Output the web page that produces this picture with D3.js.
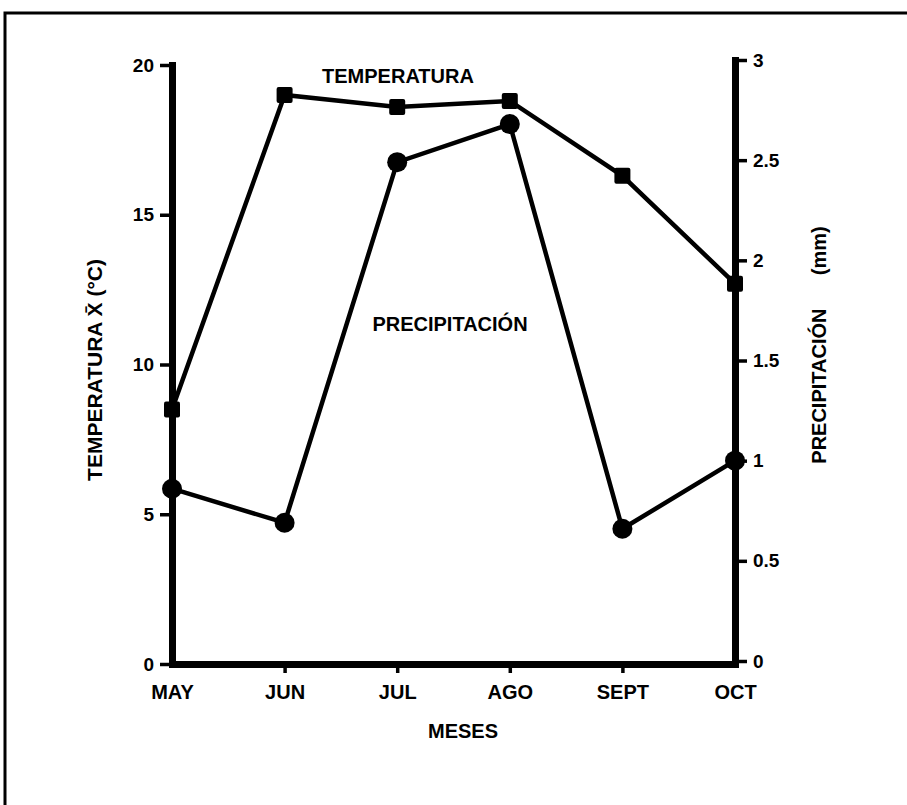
<!DOCTYPE html>
<html>
<head>
<meta charset="utf-8">
<script src="https://cdn.jsdelivr.net/npm/d3@7"></script>
<style>
  body { margin: 0; background: #fff; }
  text { font-family: "Liberation Sans", Arial, sans-serif; font-weight: bold; fill: #000; }
</style>
</head>
<body>
<div id="chart"></div>
<script>
const months = ['MAY', 'JUN', 'JUL', 'AGO', 'SEPT', 'OCT'];
const temperatura = [8.5, 19.0, 18.6, 18.8, 16.3, 12.7];
const precipitacion = [0.86, 0.69, 2.49, 2.68, 0.66, 1.0];
const tempTicks = [0, 5, 10, 15, 20];
const precTicks = [0, 0.5, 1, 1.5, 2, 2.5, 3];

const width = 907, height = 805;

let svg = d3.select('#chart').append('svg')
  .attr('width', width)
  .attr('height', height);

// frame of the scanned page
svg.append('path')
  .attr('d', 'M5,805 V13 H907')
  .attr('fill', 'none')
  .attr('stroke', '#000')
  .attr('stroke-width', 3);

let x = d3.scalePoint().domain(months).range([172, 735]),
  yT = d3.scaleLinear().domain([0, 20]).range([664, 65]),
  yP = d3.scaleLinear().domain([0, 3]).range([661, 60]);

function styleAxis(g, size) {
  g.select('.domain').attr('stroke-width', 7).attr('stroke-linecap', 'square');
  g.selectAll('.tick line').attr('stroke-width', 3.5);
  g.selectAll('.tick text')
    .style('font-family', '"Liberation Sans", Arial, sans-serif')
    .style('font-weight', 'bold')
    .style('font-size', size + 'px')
    .attr('fill', '#000');
}

svg.append('g')
  .attr('transform', 'translate(172,0)')
  .call(d3.axisLeft(yT).tickValues(tempTicks).tickSize(12).tickSizeOuter(0).tickPadding(6))
  .call(styleAxis, 19);

svg.append('g')
  .attr('transform', 'translate(735,0)')
  .call(d3.axisRight(yP).tickValues(precTicks).tickSize(12).tickSizeOuter(0).tickPadding(6)
    .tickFormat(d3.format('~g')))
  .call(styleAxis, 19);

svg.append('g')
  .attr('transform', 'translate(0,664)')
  .call(d3.axisBottom(x).tickSize(9).tickSizeOuter(0).tickPadding(12))
  .call(styleAxis, 20)
  .call(g => g.selectAll('.tick line').filter((d, i) => i === 0 || i === months.length - 1).remove());

// temperature series
svg.append('path')
  .datum(temperatura)
  .attr('fill', 'none')
  .attr('stroke', '#000')
  .attr('stroke-width', 4.5)
  .attr('d', d3.line().x((d, i) => x(months[i])).y(d => yT(d)));

svg.selectAll('.sq')
  .data(temperatura)
  .enter()
    .append('rect')
    .attr('x', (d, i) => x(months[i]) - 8)
    .attr('y', d => yT(d) - 8)
    .attr('width', 16)
    .attr('height', 16)
    .attr('rx', 2)
    .attr('fill', '#000');

// precipitation series
svg.append('path')
  .datum(precipitacion)
  .attr('fill', 'none')
  .attr('stroke', '#000')
  .attr('stroke-width', 4.5)
  .attr('d', d3.line().x((d, i) => x(months[i])).y(d => yP(d)));

svg.selectAll('.dot')
  .data(precipitacion)
  .enter()
    .append('circle')
    .attr('cx', (d, i) => x(months[i]))
    .attr('cy', d => yP(d))
    .attr('r', 10)
    .attr('fill', '#000');

// labels
svg.append('text')
  .attr('x', 398).attr('y', 83)
  .attr('text-anchor', 'middle')
  .style('font-size', '20px')
  .text('TEMPERATURA');

svg.append('text')
  .attr('x', 450).attr('y', 331)
  .attr('text-anchor', 'middle')
  .style('font-size', '20px')
  .text('PRECIPITACIÓN');

svg.append('text')
  .attr('x', 463).attr('y', 738)
  .attr('text-anchor', 'middle')
  .style('font-size', '20px')
  .text('MESES');

svg.append('text')
  .attr('transform', 'translate(102,370) rotate(-90)')
  .attr('text-anchor', 'middle')
  .style('font-size', '21px')
  .text('TEMPERATURA X\u0304 (°C)');

svg.append('text')
  .attr('transform', 'translate(826,345) rotate(-90)')
  .attr('text-anchor', 'middle')
  .style('font-size', '20px')
  .style('white-space', 'pre')
  .text('PRECIPITACIÓN      (mm)');
</script>
</body>
</html>
